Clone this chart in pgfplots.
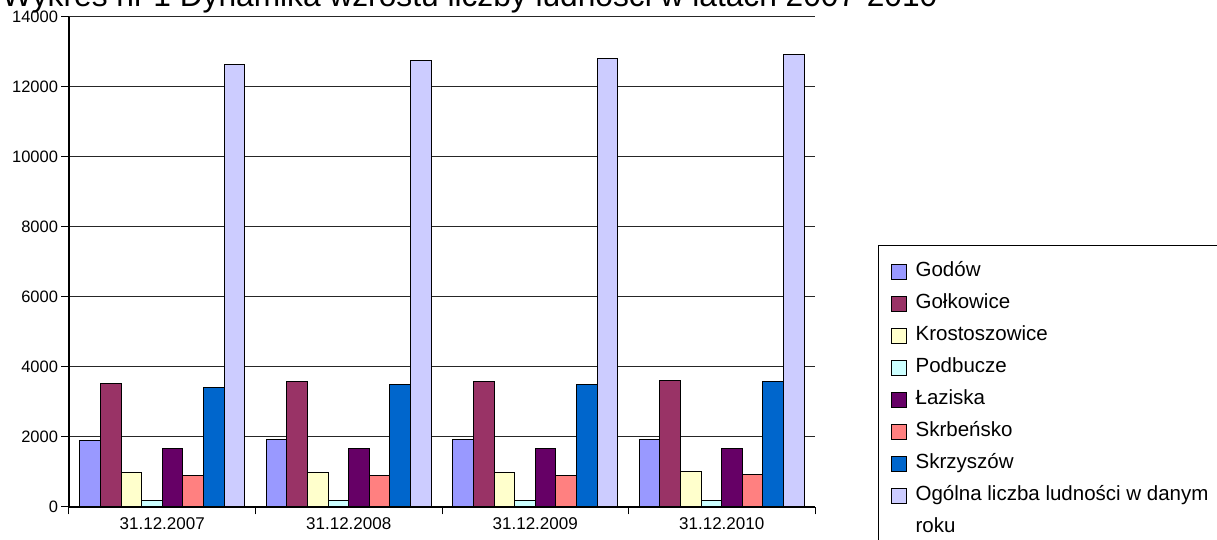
\documentclass[border=0pt]{standalone}
\usepackage{pgfplots}
\usepackage{pgfplotstable}
\pgfplotsset{compat=1.18}
\usepackage{fontspec}
\setmainfont{Liberation Sans}
\definecolor{cA}{HTML}{9999FF}
\definecolor{cB}{HTML}{993366}
\definecolor{cC}{HTML}{FFFFCC}
\definecolor{cD}{HTML}{CCFFFF}
\definecolor{cE}{HTML}{660066}
\definecolor{cF}{HTML}{FF8080}
\definecolor{cG}{HTML}{0066CC}
\definecolor{cH}{HTML}{CCCCFF}
\pgfplotstableread{
x godow golk krost podb laz skrb skrz total
0 1914 3521 977 182 1674 890 3425 12640
1 1934 3587 996 172 1665 900 3492 12745
2 1924 3587 986 172 1674 909 3511 12800
3 1924 3626 1014 191 1674 928 3578 12930
}\data
\begin{document}
\begin{tikzpicture}[x=1pt,y=1pt]
\begin{axis}[
  at={(69pt,33pt)}, anchor=south west,
  scale only axis, width=746pt, height=490pt,
  ymin=0, ymax=14000, ytick={0,2000,...,14000},
  xmin=-0.5, xmax=3.5,
  xtick={-0.5,0.5,1.5,2.5,3.5},
  x tick label as interval,
  xticklabels={31.12.2007,31.12.2008,31.12.2009,31.12.2010},
  axis x line*=bottom, axis y line*=left,
  axis line style={black, line width=1.2pt, -},
  ymajorgrids, grid style={black!85, line width=1pt},
  tick align=outside, major tick length=7.5pt,
  tick style={black, line width=1pt},
  ybar=0pt, bar width=20.6pt,
  scaled y ticks=false,
  /pgf/number format/assume math mode=true,
  /pgf/number format/1000 sep={},
  yticklabel style={font=\fontsize{16.5}{16.5}\selectfont},
  xticklabel style={font=\fontsize{17}{17}\selectfont},
  legend cell align=left,
  legend image code/.code={\draw[#1,draw=black,line width=1pt] (0pt,-7.5pt) rectangle (15pt,7.5pt);},
  legend style={at={(1.0845,0.5347)}, anchor=north west, draw=black, line width=1.2pt,
    font=\fontsize{20.5}{24}\selectfont, inner xsep=12pt, inner ysep=16pt,
    column sep=9pt, row sep=12pt,
    nodes={inner sep=0pt, text height=15pt, text depth=5pt}},
]
\addplot[fill=cA, draw=black, line width=1pt] table[x=x,y=godow]{\data};
\addlegendentry{Godów}
\addplot[fill=cB, draw=black, line width=1pt] table[x=x,y=golk]{\data};
\addlegendentry{Gołkowice}
\addplot[fill=cC, draw=black, line width=1pt] table[x=x,y=krost]{\data};
\addlegendentry{Krostoszowice}
\addplot[fill=cD, draw=black, line width=1pt] table[x=x,y=podb]{\data};
\addlegendentry{Podbucze}
\addplot[fill=cE, draw=black, line width=1pt] table[x=x,y=laz]{\data};
\addlegendentry{Łaziska}
\addplot[fill=cF, draw=black, line width=1pt] table[x=x,y=skrb]{\data};
\addlegendentry{Skrbeńsko}
\addplot[fill=cG, draw=black, line width=1pt] table[x=x,y=skrz]{\data};
\addlegendentry{Skrzyszów}
\addplot[fill=cH, draw=black, line width=1pt] table[x=x,y=total]{\data};
\addlegendentry{Ogólna liczba ludności w danym}
\addlegendimage{empty legend}
\addlegendentry{roku}
\end{axis}
\node[anchor=base west, font=\fontsize{31.7}{31.7}\selectfont, inner sep=0pt] at (2pt,533pt) {Wykres nr 1 Dynamika wzrostu liczby ludności w latach 2007-2010};
\pgfresetboundingbox
\path[use as bounding box] (0pt,0pt) rectangle (1217pt,540pt);
\end{tikzpicture}
\end{document}
